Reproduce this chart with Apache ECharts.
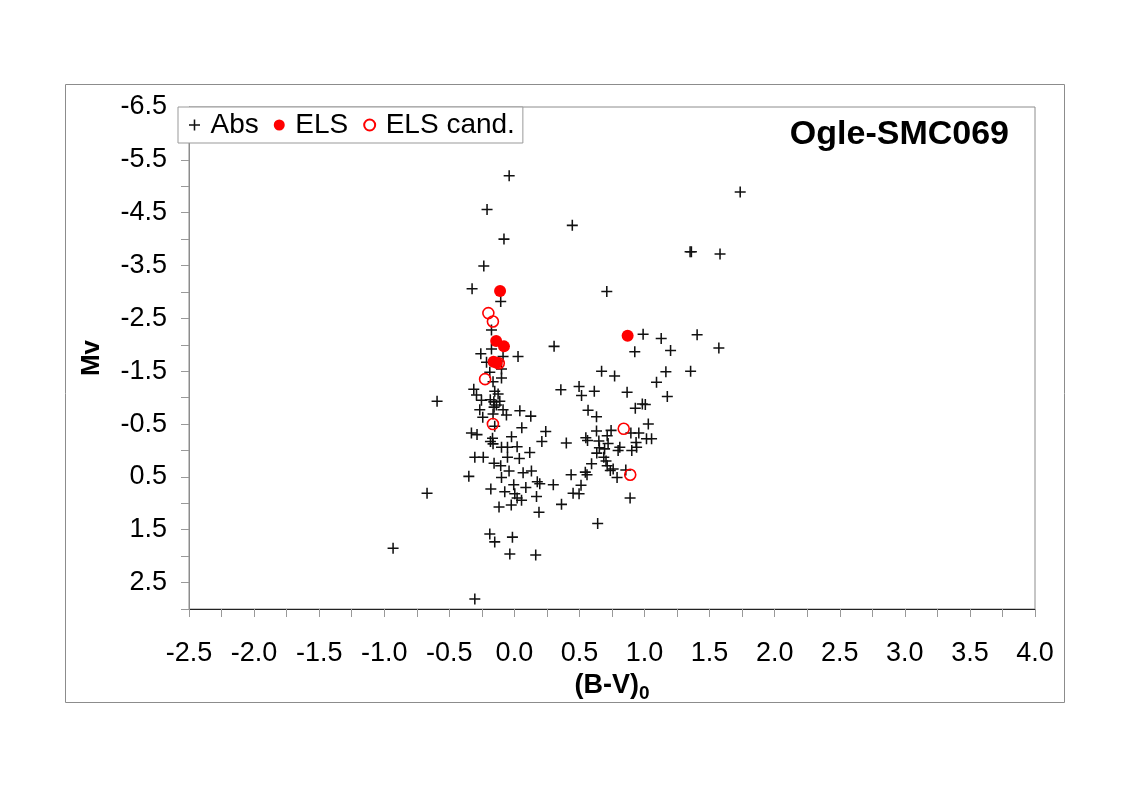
<!DOCTYPE html>
<html>
<head>
<meta charset="utf-8">
<title>Ogle-SMC069</title>
<script src="https://cdn.jsdelivr.net/npm/echarts@6/dist/echarts.min.js"></script>
<style>
  html, body { margin: 0; padding: 0; background: #fff; }
  #chart { width: 1131px; height: 788px; }
</style>
</head>
<body>
<div id="chart"></div>
<script>
// (B-V)0, Mv pairs
const absPoints = [
  [-0.04, -5.20], [-0.21, -4.56], [-0.08, -4.00], [-0.235, -3.49], [-0.325, -3.06],
  [-0.105, -2.82], [0.445, -4.26], [1.735, -4.89], [1.35, -3.76], [1.36, -3.76],
  [1.58, -3.72], [0.71, -3.01],
  [-0.176, -2.28], [-0.176, -1.92], [-0.258, -1.83], [-0.087, -1.78], [0.028, -1.78],
  [0.305, -1.97], [-0.214, -1.67], [-0.099, -1.54], [-0.189, -1.48], [-0.164, -1.30],
  [-0.099, -1.37], [-0.312, -1.16], [-0.291, -1.05], [-0.151, -1.12], [-0.125, -1.07],
  [-0.253, -0.95], [-0.185, -0.96], [-0.158, -0.92], [-0.112, -0.93], [-0.156, -0.82],
  [-0.138, -0.86], [-0.594, -0.93], [-0.266, -0.77], [-0.243, -0.63], [-0.087, -0.77],
  [-0.061, -0.67], [0.042, -0.75], [0.126, -0.65], [-0.164, -0.69], [-0.151, -0.46],
  [0.057, -0.43], [0.241, -0.36], [-0.33, -0.33], [-0.287, -0.30], [-0.022, -0.26],
  [-0.168, -0.23], [-0.184, -0.17], [-0.164, -0.125], [0.211, -0.17], [-0.099, -0.06],
  [-0.053, -0.06], [0.021, -0.07], [0.118, 0.04], [-0.304, 0.13], [-0.239, 0.13],
  [-0.053, 0.13], [0.038, 0.15], [-0.156, 0.24], [-0.105, 0.29], [-0.041, 0.39],
  [0.067, 0.42], [0.131, 0.39], [-0.35, 0.49], [-0.099, 0.51], [0.176, 0.59],
  [0.195, 0.63], [-0.005, 0.65], [0.088, 0.70], [-0.181, 0.73], [-0.074, 0.78],
  [0.003, 0.82], [0.021, 0.90], [0.055, 0.94], [0.17, 0.87], [-0.118, 1.07],
  [-0.024, 1.03], [0.189, 1.17], [0.299, 0.65], [0.362, 1.02], [-0.671, 0.81],
  [-0.932, 1.85], [-0.189, 1.58], [-0.151, 1.73], [-0.015, 1.64], [-0.035, 1.96],
  [0.164, 1.98], [-0.304, 2.81],
  [0.357, -1.15], [0.497, -1.21], [0.516, -1.04], [0.614, -1.12], [0.67, -1.50],
  [0.77, -1.41], [0.866, -1.10], [0.566, -0.76], [0.631, -0.64], [0.929, -0.80],
  [0.983, -0.88], [1.006, -0.87], [1.029, -0.50], [0.399, -0.14], [0.895, -0.33],
  [0.956, -0.33], [0.631, -0.37], [0.743, -0.38], [0.713, -0.28], [0.549, -0.24],
  [0.562, -0.19], [0.649, -0.18], [0.72, -0.13], [0.935, -0.15], [0.939, -0.06],
  [1.015, -0.22], [1.054, -0.22], [0.81, -0.06], [0.797, 0.00], [0.653, -0.05],
  [0.693, -0.03], [0.633, 0.05], [0.687, 0.13], [0.902, 0.00], [0.593, 0.25],
  [0.704, 0.20], [0.713, 0.29], [0.737, 0.38], [0.759, 0.35], [0.856, 0.37],
  [0.789, 0.51], [0.545, 0.41], [0.558, 0.46], [0.436, 0.46], [0.512, 0.66],
  [0.451, 0.81], [0.497, 0.82], [0.889, 0.90], [0.64, 1.38],
  [0.989, -2.20], [1.128, -2.12], [1.404, -2.19], [1.571, -1.94], [0.925, -1.87],
  [1.20, -1.89], [1.164, -1.49], [1.354, -1.50], [1.092, -1.29], [1.175, -1.02]
];

const elsPoints = [
  [-0.11, -3.02], [-0.14, -2.07], [-0.08, -1.97], [-0.16, -1.68], [-0.135, -1.66],
  [0.87, -2.17]
];

const elsCandPoints = [
  [-0.20, -2.60], [-0.165, -2.44], [-0.12, -1.65], [-0.225, -1.35], [-0.165, -0.50],
  [0.84, -0.41], [0.89, 0.46]
];

const seriesNames = ["Abs", "ELS", "ELS cand."];
const chartTitle = "Ogle-SMC069";
const xRange = [-2.5, 4.0];
const yRange = [-6.5, 3.0];

const FONT = "'Liberation Sans', Arial, Helvetica, sans-serif";
const CROSS = "path://M0,4.3H4.3V0H5.7V4.3H10V5.7H5.7V10H4.3V5.7H0Z";

const chart = echarts.init(document.getElementById("chart"), null, { renderer: "canvas" });

const option = {
  backgroundColor: "#fff",
  animation: false,
  textStyle: { fontFamily: FONT, color: "#000" },
  title: {
    text: chartTitle,
    right: 122,
    top: 118,
    padding: 0,
    textStyle: { fontFamily: FONT, fontSize: 34, fontWeight: "bold", color: "#000" },
  },
  legend: {
    left: 178,
    top: 107,
    orient: "horizontal",
    data: seriesNames,
    padding: [4, 8, 4, 11],
    itemGap: 15,
    itemWidth: 22,
    itemHeight: 11,
    borderColor: "#999",
    borderWidth: 1,
    backgroundColor: "#fff",
    textStyle: { fontFamily: FONT, fontSize: 28, color: "#000" },
  },
  grid: {
    left: 189,
    top: 107,
    width: 846,
    height: 502,
    show: true,
    borderColor: "#8c8c8c",
    borderWidth: 1,
    backgroundColor: "transparent",
    containLabel: false,
  },
  graphic: [
    {
      type: "rect",
      silent: true,
      z: -1,
      shape: { x: 65.5, y: 84.5, width: 999, height: 618 },
      style: { fill: "none", stroke: "#8c8c8c", lineWidth: 1 },
    },
  ],
  xAxis: {
    type: "value",
    min: xRange[0],
    max: xRange[1],
    interval: 0.5,
    name: "{a|(B-V)}{b|0}",
    nameLocation: "middle",
    nameGap: 55,
    nameTextStyle: {
      rich: {
        a: { fontFamily: FONT, fontSize: 27, fontWeight: "bold", color: "#000" },
        b: { fontFamily: FONT, fontSize: 19, fontWeight: "bold", color: "#000", padding: [16, 0, 0, 0] },
      },
    },
    axisLine: { show: true, onZero: false, lineStyle: { color: "#222", width: 1.2 } },
    axisTick: { show: true, length: 8, lineStyle: { color: "#999" } },
    minorTick: { show: true, splitNumber: 2, length: 8, lineStyle: { color: "#999" } },
    splitLine: { show: false },
    axisLabel: {
      margin: 31,
      fontFamily: FONT,
      fontSize: 27,
      color: "#000",
      formatter: (v) => v.toFixed(1),
    },
  },
  yAxis: {
    type: "value",
    inverse: true,
    min: yRange[0],
    max: yRange[1],
    interval: 0.5,
    name: "Mv",
    nameLocation: "middle",
    nameGap: 84,
    nameRotate: 90,
    nameTextStyle: { fontFamily: FONT, fontSize: 26, fontWeight: "bold", color: "#000" },
    axisLine: { show: true, onZero: false, lineStyle: { color: "#8c8c8c", width: 1 } },
    axisTick: { show: true, length: 8, lineStyle: { color: "#999" } },
    splitLine: { show: false },
    axisLabel: {
      margin: 22,
      fontFamily: FONT,
      fontSize: 27,
      color: "#000",
      formatter: (v) => (Math.abs(Math.round(v * 10) % 10) === 5 ? v.toFixed(1) : ""),
    },
  },
  series: [
    {
      name: seriesNames[0],
      type: "scatter",
      symbol: CROSS,
      symbolSize: 11,
      itemStyle: { color: "#111", opacity: 1 },
      data: absPoints,
      z: 2,
    },
    {
      name: seriesNames[1],
      type: "scatter",
      symbol: "circle",
      symbolSize: 12,
      itemStyle: { color: "#ff0000", opacity: 1 },
      data: elsPoints,
      z: 3,
    },
    {
      name: seriesNames[2],
      type: "scatter",
      symbol: "circle",
      symbolSize: 11,
      itemStyle: { color: "transparent", borderColor: "#ff0000", borderWidth: 1.6, opacity: 1 },
      data: elsCandPoints,
      z: 4,
    },
  ],
};

chart.setOption(option);
</script>
</body>
</html>
